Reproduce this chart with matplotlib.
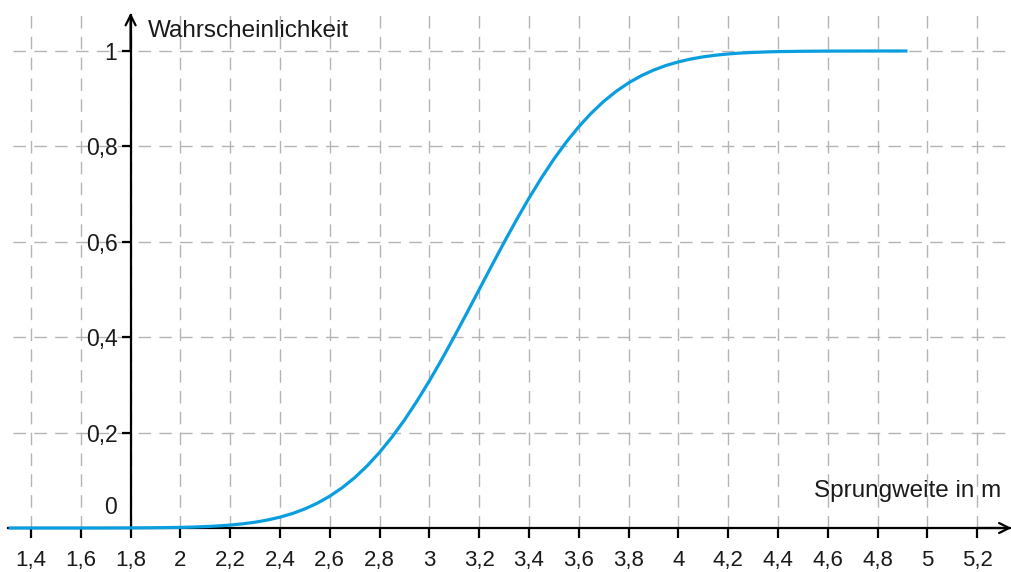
import matplotlib
matplotlib.use("Agg")
import matplotlib.pyplot as plt

# Werte
sprungweite = [1.31, 1.4, 1.6, 1.8, 1.9, 2.0, 2.05, 2.1, 2.15, 2.2, 2.25, 2.3, 2.35,
               2.4, 2.45, 2.5, 2.55, 2.6, 2.65, 2.7, 2.75, 2.8, 2.85, 2.9, 2.95,
               3.0, 3.05, 3.1, 3.15, 3.2, 3.25, 3.3, 3.35, 3.4, 3.45, 3.5, 3.55,
               3.6, 3.65, 3.7, 3.75, 3.8, 3.85, 3.9, 3.95, 4.0, 4.05, 4.1, 4.15,
               4.2, 4.25, 4.3, 4.35, 4.4, 4.5, 4.6, 4.7, 4.8, 4.92]
wahrscheinlichkeit = [0.0, 0.0, 0.0, 0.0002, 0.0006, 0.0013, 0.002, 0.003, 0.0043,
                      0.0062, 0.0088, 0.0122, 0.0168, 0.0228, 0.0304, 0.0401, 0.0521,
                      0.0668, 0.0846, 0.1056, 0.1303, 0.1587, 0.1908, 0.2266, 0.266,
                      0.3085, 0.3538, 0.4013, 0.4503, 0.5, 0.5497, 0.5987, 0.6462,
                      0.6915, 0.734, 0.7734, 0.8092, 0.8413, 0.8697, 0.8944, 0.9154,
                      0.9332, 0.9479, 0.9599, 0.9696, 0.9772, 0.9832, 0.9878, 0.9912,
                      0.9938, 0.9957, 0.997, 0.998, 0.9987, 0.9994, 0.9998, 0.9999,
                      1.0, 1.0]

x_ticks = [1.4, 1.6, 1.8, 2.0, 2.2, 2.4, 2.6, 2.8, 3.0, 3.2, 3.4, 3.6, 3.8,
           4.0, 4.2, 4.4, 4.6, 4.8, 5.0, 5.2]
y_ticks = [0.2, 0.4, 0.6, 0.8, 1.0]

def komma(v):
    s = f"{v:g}"
    return s.replace(".", ",")

plt.rcParams["font.family"] = ["Liberation Sans", "DejaVu Sans"]
plt.rcParams["lines.scale_dashes"] = False
textfarbe = "#1a1a1a"

fig = plt.figure(figsize=(10.12, 5.72), dpi=100)
ax = fig.add_axes([0, 0, 1, 1])
ax.set_xlim(1.2755, 5.3398)
ax.set_ylim(-0.0922, 1.1069)
ax.patch.set_alpha(0)

# Gitter
grid_kw = dict(colors="#b4b4b4", linewidth=1.0, linestyles=(0, (9, 6)), zorder=1)
ax.vlines(x_ticks, 0, 1.082, **grid_kw)
ax.hlines(y_ticks, 1.328, 5.3398, **grid_kw)

# Achsen
for s in ["top", "right"]:
    ax.spines[s].set_visible(False)
ax.spines["left"].set_position(("data", 1.8))
ax.spines["bottom"].set_position(("data", 0))
ax.spines["left"].set_bounds(0, 1.075)
ax.spines["bottom"].set_bounds(1.3076, 5.33)
for s in ["left", "bottom"]:
    ax.spines[s].set_linewidth(1.6)
    ax.spines[s].set_color("black")
    ax.spines[s].set_zorder(2)

ax.annotate("", xy=(1.8, 1.08), xytext=(1.8, 1.0),
            arrowprops=dict(arrowstyle="->", lw=1.6, color="black",
                            mutation_scale=18, shrinkA=0, shrinkB=0))
ax.annotate("", xy=(5.338, 0), xytext=(5.2, 0),
            arrowprops=dict(arrowstyle="->", lw=1.6, color="black",
                            mutation_scale=18, shrinkA=0, shrinkB=0))

ax.set_xticks(x_ticks)
ax.set_xticklabels([komma(v) for v in x_ticks])
ax.set_yticks(y_ticks)
ax.set_yticklabels([komma(v) for v in y_ticks])
ax.tick_params(axis="x", direction="out", length=7, width=1.6, pad=9,
               labelsize=16, labelcolor=textfarbe)
ax.tick_params(axis="y", direction="out", length=6.5, width=1.6, pad=3,
               labelsize=16.5, labelcolor=textfarbe)
for lab in ax.get_yticklabels():
    lab.set_verticalalignment("center_baseline")

ax.text(1.8 - 0.055, 0.042, "0", ha="right", va="center", fontsize=16.5, color=textfarbe)

# Kurve
ax.plot(sprungweite, wahrscheinlichkeit, color="#0a9ee0", linewidth=2.3,
        solid_capstyle="butt", zorder=3, clip_on=False)

ax.text(1.868, 1.041, "Wahrscheinlichkeit", ha="left", va="center",
        fontsize=17.5, color=textfarbe)
ax.text(5.298, 0.078, "Sprungweite in m", ha="right", va="center",
        fontsize=17.5, color=textfarbe)

fig.savefig("out.png", dpi=100)
